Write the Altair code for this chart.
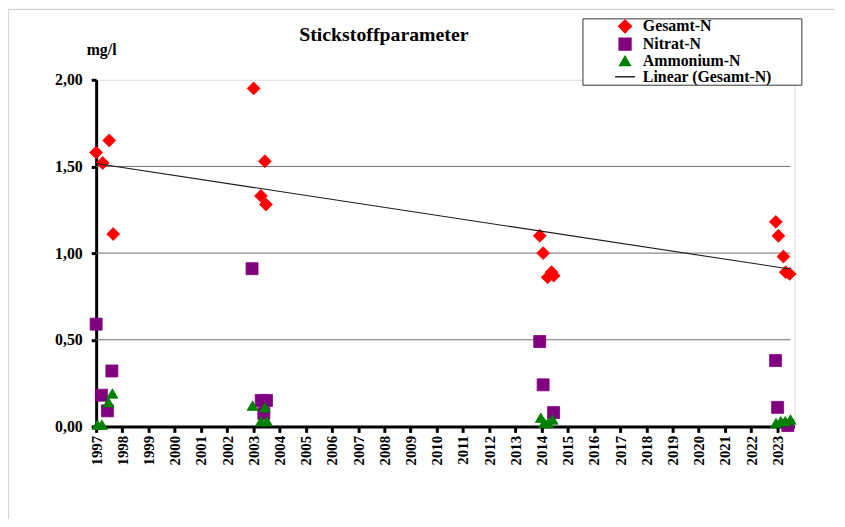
import altair as alt
import pandas as pd

# ---- data (decimal year, mg/l) ----
gesamt_x = [1997.0, 1997.25, 1997.5, 1997.65, 2003.01, 2003.29, 2003.44, 2003.48,
            2013.93, 2014.06, 2014.23, 2014.38, 2014.46,
            2022.94, 2023.04, 2023.23, 2023.32, 2023.47]
gesamt_y = [1.58, 1.52, 1.65, 1.11, 1.95, 1.33, 1.53, 1.28,
            1.10, 1.00, 0.86, 0.89, 0.87,
            1.18, 1.10, 0.98, 0.89, 0.88]
nitrat_x = [1997.0, 1997.2, 1997.43, 1997.6, 2002.95, 2003.3, 2003.5, 2003.4,
            2013.93, 2014.06, 2014.46, 2022.93, 2023.01, 2023.4]
nitrat_y = [0.59, 0.18, 0.09, 0.32, 0.91, 0.15, 0.15, 0.075,
            0.49, 0.24, 0.08, 0.38, 0.11, 0.005]
ammon_x = [1997.05, 1997.22, 1997.47, 1997.62, 2002.97, 2003.44, 2003.29, 2003.52,
           2013.97, 2014.1, 2014.25, 2014.42, 2022.95, 2023.13, 2023.3, 2023.5]
ammon_y = [0.01, 0.01, 0.14, 0.19, 0.12, 0.11, 0.03, 0.03,
           0.05, 0.02, 0.02, 0.04, 0.02, 0.03, 0.03, 0.04]

series_names = ["Gesamt-N", "Nitrat-N", "Ammonium-N", "Linear (Gesamt-N)"]
series_colors = ["#FF0000", "#800080", "#008000", "#000000"]
series_shapes = ["diamond", "square", "triangle-up", "M-2,0L2,0"]
series_sizes = [170, 100, 120, 196]
years = list(range(1997, 2024))
y_ticks = [0, 0.5, 1.0, 1.5, 2.0]
grid_values = [0.5, 1.0, 1.5]

rows = []
for name, xs, ys in [("Gesamt-N", gesamt_x, gesamt_y),
                     ("Nitrat-N", nitrat_x, nitrat_y),
                     ("Ammonium-N", ammon_x, ammon_y)]:
    for xv, yv in zip(xs, ys):
        rows.append({"jahr": xv, "wert": yv, "serie": name})
df = pd.DataFrame(rows)
grid_df = pd.DataFrame({"g": grid_values})

W, H = 705, 350
FONT = "Liberation Serif"

xscale = alt.Scale(domain=[1997, 2023.65], nice=False, zero=False)
yscale = alt.Scale(domain=[0, 2], nice=False)

x_axis = alt.Axis(
    values=years, format="d", title=None, labelAngle=-90, grid=False,
    labelFont=FONT, labelFontSize=15, labelFontWeight="bold", labelColor="black",
    labelOverlap=False, labelPadding=3, labelFlush=False,
    domainColor="black", domainWidth=3, tickColor="black", tickWidth=3, tickSize=6)
y_axis = alt.Axis(
    values=y_ticks, grid=False, title="mg/l",
    labelExpr="replace(format(datum.value, '.2f'), '.', ',')",
    labelFont=FONT, labelFontSize=16, labelFontWeight="bold", labelColor="black",
    labelPadding=9, domainColor="black", domainWidth=3,
    tickColor="black", tickWidth=3, tickSize=5,
    titleAngle=0, titleX=5, titleY=-26, titleAlign="center", titleBaseline="alphabetic",
    titleFont=FONT, titleFontSize=16, titleFontWeight="bold", titleColor="black")

leg = alt.Legend(
    title="M", titleOrient="right", titleColor="transparent", titleFont=FONT,
    titleFontSize=16, titleFontWeight="bold", titlePadding=14,
    orient="none", legendX=491, legendY=-62,
    strokeColor="#333333", fillColor="white", padding=0, cornerRadius=0,
    labelFont=FONT, labelFontSize=16, labelFontWeight="bold", labelColor="black",
    symbolOffset=35, labelOffset=10, rowPadding=-1, symbolStrokeWidth=1.3,
    labelLimit=400,
)

def sc(rng):
    return alt.Scale(domain=series_names, range=rng)

grid = alt.Chart(grid_df).mark_rule(color="#6e6e6e", strokeWidth=1).encode(
    y=alt.Y("g:Q", scale=yscale, axis=y_axis),
    x=alt.value(0), x2=alt.value(701),
)

frame_top = alt.Chart(grid_df).mark_rule(color="#cfcfcf", strokeWidth=1).encode(
    x=alt.value(-89), x2=alt.value(W + 40), y=alt.value(-71))
frame_left = alt.Chart(grid_df).mark_rule(color="#cfcfcf", strokeWidth=1).encode(
    x=alt.value(-89), y=alt.value(-71), y2=alt.value(H + 100))

points = alt.Chart(df).mark_point(filled=True, opacity=1, strokeWidth=0.8).encode(
    x=alt.X("jahr:Q", scale=xscale, axis=x_axis),
    y=alt.Y("wert:Q", scale=yscale, axis=y_axis),
    fill=alt.Fill("serie:N", scale=sc(series_colors), legend=leg),
    stroke=alt.Stroke("serie:N", scale=sc(series_colors), legend=leg),
    shape=alt.Shape("serie:N", scale=sc(series_shapes), legend=leg),
    size=alt.Size("serie:N", scale=sc(series_sizes), legend=leg),
    order=alt.Order("ord:Q"),
).transform_calculate(
    ord="datum.serie == 'Gesamt-N' ? 0 : (datum.serie == 'Nitrat-N' ? 1 : 2)"
)

trend = alt.Chart(df).transform_filter(
    alt.datum.serie == "Gesamt-N"
).transform_regression("jahr", "wert").mark_line(color="#1a1a1a", strokeWidth=1.1).encode(
    x=alt.X("jahr:Q", scale=xscale, axis=x_axis),
    y=alt.Y("wert:Q", scale=yscale, axis=y_axis),
)

chart = alt.layer(frame_top, frame_left, grid, points, trend).properties(
    width=W, height=H,
    title=alt.TitleParams("Stickstoffparameter", font=FONT, fontSize=20, fontWeight="bold",
                          color="black", anchor="start", frame="group", dx=205, dy=36,
                          offset=0),
    autosize=alt.AutoSizeParams(type="none"),
    padding={"left": 89, "top": 70, "right": 43, "bottom": 91},
).configure_view(stroke="transparent", strokeWidth=0).configure(background="white")

chart.save("out.html", embed_options={"renderer": "svg", "actions": False})
